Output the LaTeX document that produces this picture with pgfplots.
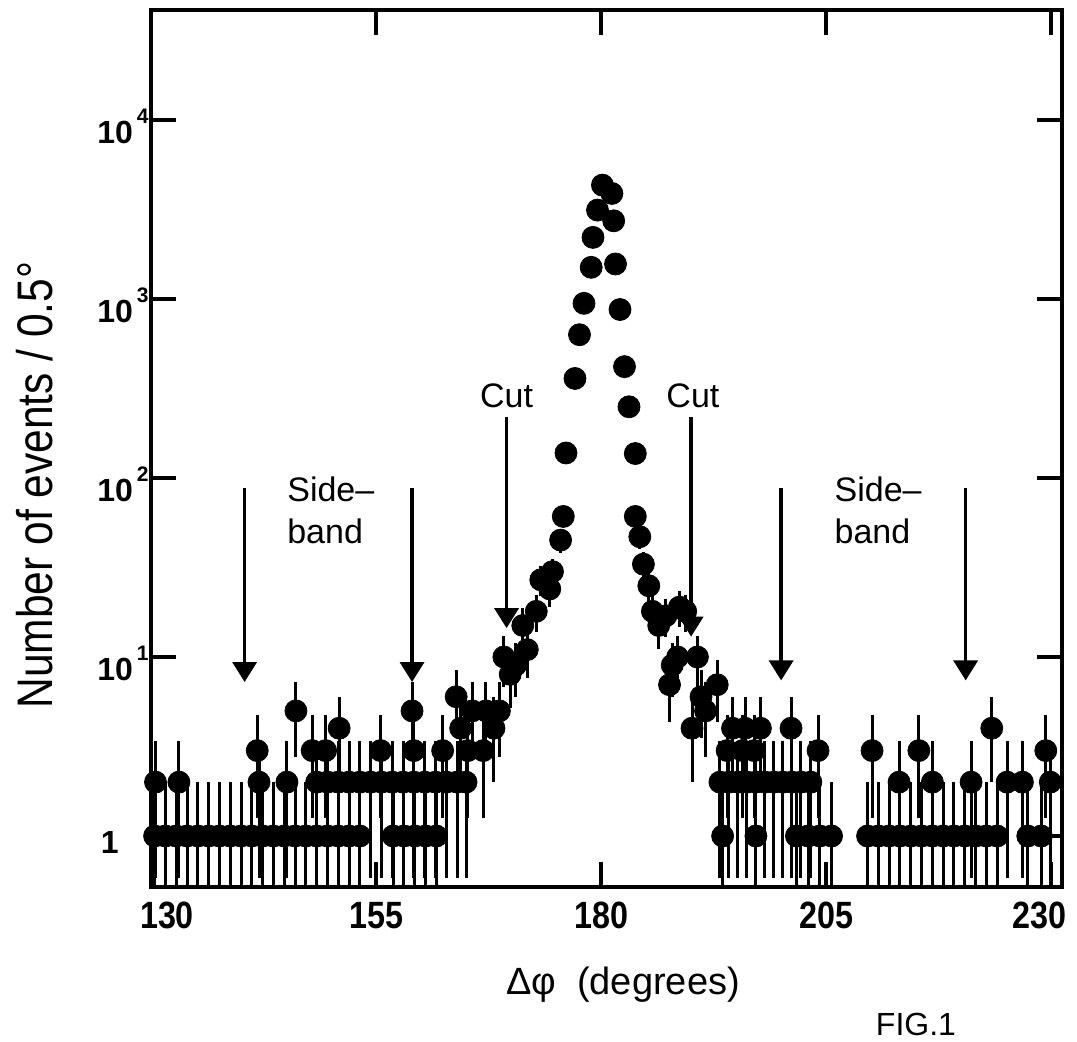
\documentclass[border=0pt]{standalone}
\usepackage{fontspec}
\setmainfont{Liberation Sans}
\newfontfamily\condfont{Liberation Sans}[FakeStretch=0.85]
\usepackage{pgfplots}
\usepackage{pgfplotstable}
\pgfplotsset{compat=1.18}
\usetikzlibrary{arrows.meta}

\pgfplotstableread{
x y
130.4 1
131.6 1
132.8 1
134.0 1
135.2 1
136.4 1
137.6 1
138.8 1
140.0 1
141.2 1
142.4 1
143.6 1
144.8 1
146.0 1
147.2 1
148.4 1
149.6 1
150.8 1
152.0 1
153.2 1
156.9 1
158.1 1
159.3 1
160.5 1
161.7 1
130.5 2
133.1 2
142.0 2
145.1 2
148.4 2
149.6 2
150.8 2
152.0 2
153.2 2
154.4 2
155.6 2
156.8 2
158.0 2
159.2 2
160.4 2
161.6 2
162.8 2
164.0 2
165.0 2
141.8 3
147.9 3
149.4 3
155.5 3
159.2 3
162.4 3
165.2 3
166.9 3
150.9 4
164.4 4
168.1 4
146.1 5
159.0 5
165.7 5
167.2 5
168.7 5
163.9 6
}\lefttail

\pgfplotstableread{
x y
169.2 10
169.9 8
170.5 9
171.3 15
171.8 11
172.8 18
173.3 27
174.3 24
174.6 30
175.5 45
175.8 61
176.1 138
177.1 360
177.6 632
178.1 946
178.9 1504
179.1 2210
179.6 3140
180.15 4330
181.2 3890
181.4 2735
181.6 1570
182.1 874
182.6 419
183.1 250
183.8 137
183.8 61
184.3 47
184.7 33
185.3 25
185.7 18
186.4 15
187.2 17
187.6 7
187.9 9
188.5 10
188.7 19
189.4 18
190.1 4
190.7 10
191.1 6
191.6 5
192.9 7
}\peak

\pgfplotstableread{
x y
193.5 1
197.2 1
201.7 1
203.0 1
204.3 1
205.6 1
209.6 1
210.8 1
212.0 1
213.2 1
214.4 1
215.6 1
216.8 1
218.0 1
219.2 1
220.4 1
221.6 1
222.8 1
224.0 1
227.4 1
228.9 1
193.2 2
194.2 2
195.2 2
196.2 2
197.2 2
198.2 2
199.2 2
200.2 2
201.2 2
202.2 2
203.3 2
213.1 2
216.8 2
221.1 2
225.1 2
226.8 2
229.9 2
194.0 3
195.7 3
197.0 3
204.1 3
210.1 3
215.3 3
229.4 3
194.6 4
196.0 4
197.7 4
201.1 4
223.4 4
}\righttail

\newcommand{\yfont}{\bfseries\fontsize{16}{18}\selectfont}
\newcommand{\dec}[1]{{\yfont 10\hspace{2pt}\raisebox{10pt}{\fontsize{10.5}{12}\selectfont #1}}}

\pgfplotsset{
  evt/.style={only marks, mark=*, mark size=5.5pt, black,
    mark options={fill=black, draw=black},
    error bars/.cd, y dir=both, y explicit, error mark=none,
    error bar style={line width=1.5pt, black}},
}

\begin{document}
\begin{tikzpicture}
\useasboundingbox (-75.5pt,-77.5pt) rectangle (463pt,443.5pt);
\begin{axis}[
  name=ax, at={(0,0)}, anchor=south west,
  scale only axis, width=455.5pt, height=438.5pt,
  xmin=130, xmax=231.2, ymode=log, ymin=0.519, ymax=41200,
  axis line style={line width=2pt, black},
  tick align=inside, tick pos=both, major tick length=12.5pt,
  tick style={line width=2pt, black},
  xtick={130,155,180,205,230},
  xticklabels={{\rule{16pt}{0pt}130},155,180,205,{230\rule{12pt}{0pt}}},
  ytick={1,10,100,1000,10000},
  yticklabels={{\yfont 1\rule{15pt}{0pt}},\dec{1},\dec{2},\dec{3},\dec{4}},
  yminorticks=false,
  xticklabel style={font=\condfont\bfseries\fontsize{19}{22}\selectfont, yshift=-4pt},
  yticklabel style={yshift=-3pt, inner xsep=1pt},
  clip=true,
]
\addplot+[evt] table[x=x, y=y,
  y error plus expr={sqrt(\thisrow{y})},
  y error minus expr={min(sqrt(\thisrow{y}),0.99*\thisrow{y})}] {\lefttail};
\addplot+[evt] table[x=x, y=y,
  y error plus expr={sqrt(\thisrow{y})},
  y error minus expr={min(sqrt(\thisrow{y}),0.99*\thisrow{y})}] {\peak};
\addplot+[evt] table[x=x, y=y,
  y error plus expr={sqrt(\thisrow{y})},
  y error minus expr={min(sqrt(\thisrow{y}),0.99*\thisrow{y})}] {\righttail};

\tikzset{ann/.style={line width=1.8pt, -{Triangle[width=12pt,length=10pt]}}}
\draw[ann] (axis cs:140.4,88) -- (axis cs:140.4,7.25);
\draw[ann] (axis cs:159.0,88) -- (axis cs:159.0,7.25);
\draw[ann] (axis cs:169.5,220) -- (axis cs:169.5,14.5);
\draw[ann] (axis cs:190.0,220) -- (axis cs:190.0,13);
\draw[ann] (axis cs:200.0,88) -- (axis cs:200.0,7.4);
\draw[ann] (axis cs:220.5,88) -- (axis cs:220.5,7.4);

\node[font=\fontsize{17}{21}\selectfont] at (axis cs:169.5,287) {Cut};
\node[font=\fontsize{17}{21}\selectfont] at (axis cs:190.2,287) {Cut};
\node[font=\fontsize{17}{21}\selectfont, align=left, anchor=west, inner sep=0pt] at (axis cs:145.1,66) {Side\textendash\\band};
\node[font=\fontsize{17}{21}\selectfont, align=left, anchor=west, inner sep=0pt] at (axis cs:205.9,66) {Side\textendash\\band};
\end{axis}
\node[rotate=90, font=\condfont\fontsize{25}{28}\selectfont] at (-58pt,201pt) {Number of events / 0.5°};
\node[font=\fontsize{19}{22}\selectfont] at (236pt,-49pt) {Δφ\ \ (degrees)};
\node[anchor=north, inner sep=0pt, font=\fontsize{16}{19}\selectfont] at (382.5pt,-63pt) {FIG.1};
\end{tikzpicture}
\end{document}
